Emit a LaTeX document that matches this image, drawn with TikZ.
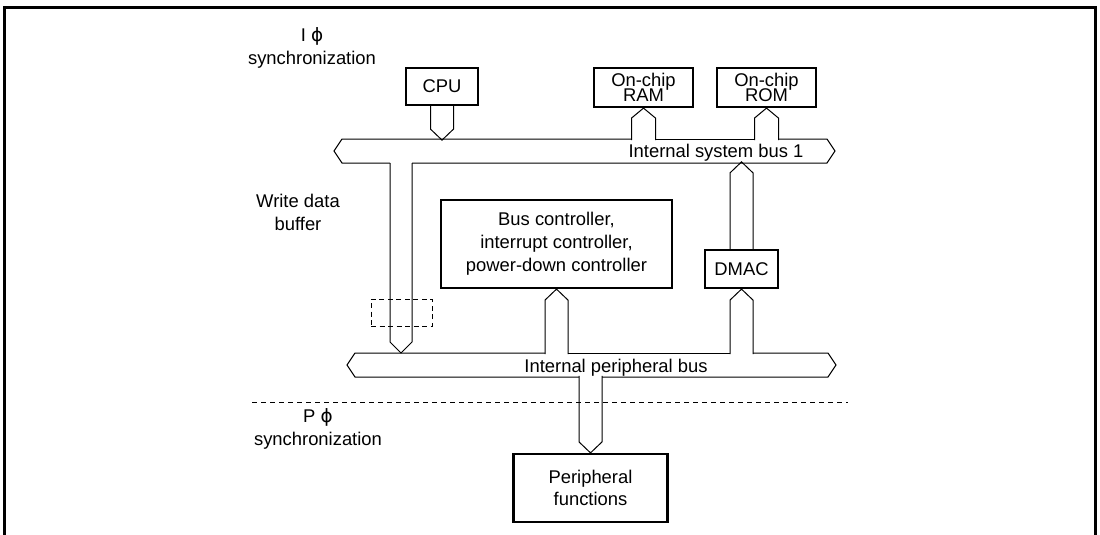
\documentclass[tikz,border=0pt]{standalone}
\usepackage{fontspec}
\setmainfont{Liberation Sans}
\newfontfamily\phifont{DejaVu Sans}
\usepackage{tikz}
\usetikzlibrary{positioning}

\newcommand{\diafont}{\fontsize{18.4}{23}\selectfont}
\newcommand{\chipfont}{\fontsize{18.4}{15}\selectfont\lineskiplimit=-20pt}

\begin{document}
\begin{tikzpicture}[x=1pt,y=-1pt,
        blk/.style={draw,line width=2.2pt,inner sep=0pt,align=center,
                    font=\diafont},
        txt/.style={inner sep=0pt,align=center,font=\diafont},
        bus/.style={line width=1pt,line join=miter},
        frame/.style={line width=2.8pt},
        divider/.style={line width=1pt,dash pattern=on 4.5pt off 4.5pt}]
        \useasboundingbox (0,0) rectangle (1100,535);
        \draw[frame] (4.7,535) -- (4.7,7.2) -- (1095.8,7.2) -- (1095.8,535);
        % blocks
        \node[blk,minimum width=72pt,minimum height=37pt] (cpu) at (442,86.5) {CPU};
        \foreach \n/\x/\lbl in {ram/643.5/RAM,rom/766.5/ROM}{
          \node[blk,minimum width=99pt,minimum height=39pt,font=\chipfont]
                (\n) at (\x,87.5) {On-chip\\\lbl};
        }
        \node[blk,minimum width=231pt,minimum height=88pt] (busctl) at (556.5,244)
             {Bus controller,\\interrupt controller,\\power-down controller};
        \node[blk,minimum width=73pt,minimum height=38pt] (dmac) at (741.5,269) {DMAC};
        \node[blk,minimum width=154pt,minimum height=68pt,
              font=\fontsize{18.4}{22}\selectfont] (periph) at (590.5,488)
             {Peripheral\\functions};
        % labels
        \node[txt] (isync) at (312,48) {I {\phifont ϕ}\\synchronization};
        \node[txt] (wbuf) at (298,212.6) {Write data\\buffer};
        \node[txt,font=\fontsize{18.4}{22.3}\selectfont] (psync) at (318,429)
             {P {\phifont ϕ}\\synchronization};
        \node[txt] (sysbus) at (716,152.6) {Internal system bus 1};
        \node[txt] (perbus) at (616,368) {Internal peripheral bus};
        % internal system bus 1
        \draw[bus] (631.5,139) -- (342,139) -- (334,151) -- (342,163) -- (390,163);
        \draw[bus] (655.5,139) -- (754.5,139);
        \draw[bus] (778.5,139) -- (827,139) -- (835,151) -- (827,163) -- (412,163);
        % internal peripheral bus
        \draw[bus] (545,353) -- (355,353) -- (347,365) -- (355,377) -- (579,377);
        \draw[bus] (568,353) -- (730,353);
        \draw[bus] (753,353) -- (828,353) -- (836,365) -- (828,377) -- (602,377);
        % connectors
        \draw[bus] ([shift={(-11.5,0)}]cpu.south) -- ++(0,23) -- ++(11.5,11)
                   -- ++(11.5,-11) -- ++(0,-23);
        \foreach \n in {ram,rom}
          \draw[bus] ([shift={(-12,32)}]\n.south) -- ++(0,-22) -- ++(12,-10)
                     -- ++(12,10) -- ++(0,22);
        \draw[bus] ([shift={(-11.5,0)}]dmac.north) -- ++(0,-76) -- ++(11.5,-11)
                   -- ++(11.5,11) -- ++(0,76);
        \foreach \n in {dmac,busctl}
          \draw[bus] ([shift={(-11.5,65)}]\n.south) -- ++(0,-54) -- ++(11.5,-11)
                     -- ++(11.5,11) -- ++(0,54);
        \coordinate (wtop) at (401,163);
        \draw[bus] ([shift={(-11,0)}]wtop) -- ++(0,179) -- ++(11,11)
                   -- ++(11,-11) -- ++(0,-179);
        \draw[bus] ([shift={(-11.5,-77)}]periph.north) -- ++(0,66) -- ++(11.5,11)
                   -- ++(11.5,-11) -- ++(0,-66);
        % write data buffer and clock boundary
        \node[draw,line width=1pt,dash pattern=on 5pt off 3.5pt,inner sep=0pt,
              minimum width=61pt,minimum height=27pt] (wbox) at (401.5,312.5) {};
        \coordinate (divL) at (252,402);
        \coordinate (divR) at (848,402);
        \draw[divider] (divL) -- (divR);
      \end{tikzpicture}
\end{document}
